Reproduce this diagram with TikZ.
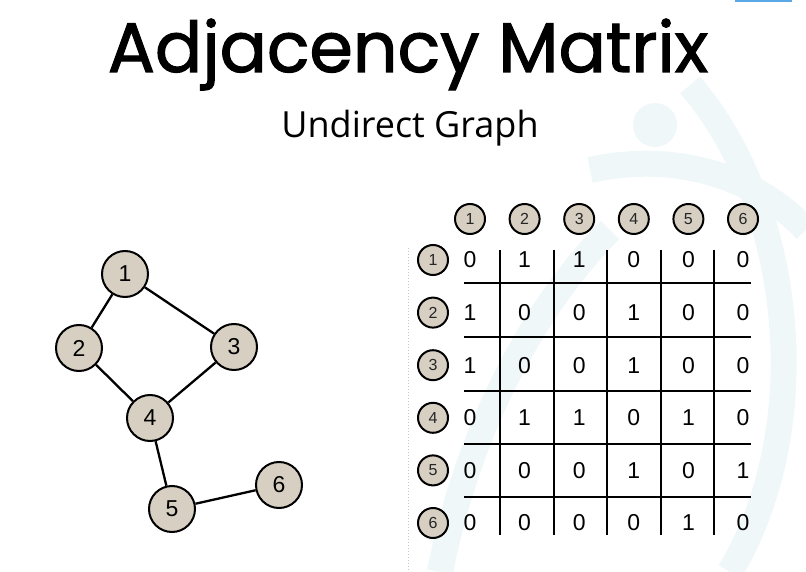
\documentclass[tikz,border=0pt]{standalone}
\usepackage{fontspec}
\setmainfont{Liberation Sans}
\newfontfamily\titlefont{Poppins}[FakeBold=1.6]
\newfontfamily\subtitlefont{Open Sans}
\usetikzlibrary{positioning}
\definecolor{vertexfill}{HTML}{D6CFC2}
\definecolor{watermark}{HTML}{EFF7F9}
\definecolor{barblue}{HTML}{5AA9E6}

\tikzset{
  vertex/.style={circle, draw, line width=2pt, fill=vertexfill, minimum size=46pt, inner sep=0pt, font=\fontsize{23}{23}\selectfont},
  smallvertex/.style={circle, draw, line width=2pt, fill=vertexfill, minimum size=30pt, inner sep=0pt, text=black!85, font=\fontsize{16}{16}\selectfont},
  edge/.style={line width=2.3pt},
  entry/.style={inner sep=0pt, font=\fontsize{23}{23}\selectfont},
  gridline/.style={line width=2.6pt},
  wmband/.style={watermark, line width=26pt}
}

\begin{document}
\begin{tikzpicture}[x=1pt,y=-1pt]
            \useasboundingbox (0,0) rectangle (806,572);

            % Watermark
            \draw[wmband] (690,85) .. controls (790,200) and (820,420) .. (730,572);
            \draw[wmband] (590,170) .. controls (680,150) and (760,180) .. (806,230);
            \draw[wmband] (610,230) .. controls (540,300) and (470,420) .. (440,572);
            \fill[watermark] (655,125) circle (22);
            \fill[barblue] (735,0) rectangle (792,2.5);

            % Title
            \node[anchor=base] (title) at (408,72) {\titlefont\fontsize{70}{70}\selectfont Adjacency Matrix};
            \node[anchor=base] (subtitle) at (410,138) {\subtitlefont\fontsize{36}{36}\selectfont Undirect Graph};

            % Graph
            \node[vertex] (n1) at (125,274) {1};
            \node[vertex] (n2) at (79,348) {2};
            \node[vertex] (n3) at (234,347) {3};
            \node[vertex] (n4) at (150,418) {4};
            \node[vertex] (n5) at (172,509) {5};
            \node[vertex] (n6) at (279,485) {6};
            \draw[edge] (n1) -- (n2);
            \draw[edge] (n1) -- (n3);
            \draw[edge] (n2) -- (n4);
            \draw[edge] (n3) -- (n4);
            \draw[edge] (n4) -- (n5);
            \draw[edge] (n5) -- (n6);

            % Matrix
            \draw[gray!45, dotted, line width=1pt] (408,248) -- (408,572);
            \foreach \i in {1,...,6} {
                \node[smallvertex] (h\i) at ({470+54.6*(\i-1)},219) {\i};
                \node[smallvertex] (r\i) at (433,{260+52.6*(\i-1)}) {\i};
            }
            \foreach \x in {500,554,607,661,714}
                \draw[gridline] (\x,250) -- (\x,535);
            \foreach \y in {283,337,391,444,497}
                \draw[gridline] (464,\y) -- (751,\y);
            \foreach \row [count=\i] in {{0,1,1,0,0,0},{1,0,0,1,0,0},{1,0,0,1,0,0},{0,1,1,0,1,0},{0,0,0,1,0,1},{0,0,0,0,1,0}}
                \foreach \v [count=\j] in \row
                    \node[entry] (m\i\j) at ({470+54.6*(\j-1)},{260+52.6*(\i-1)}) {\v};

        \end{tikzpicture}
\end{document}
